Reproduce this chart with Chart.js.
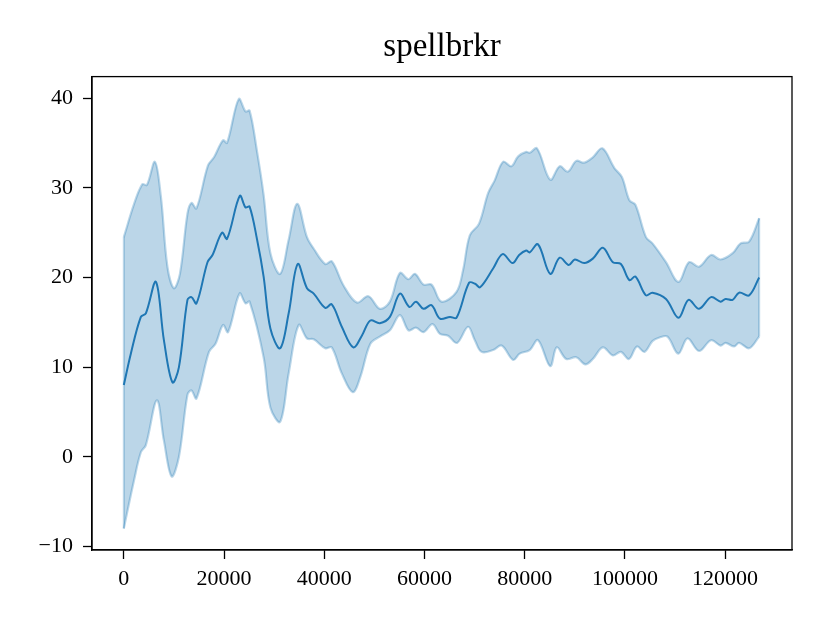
<!DOCTYPE html>
<html><head><meta charset="utf-8">
<script src="https://cdn.jsdelivr.net/npm/chart.js@4/dist/chart.umd.min.js"></script>
<style>html,body{margin:0;padding:0;background:#fff;}#wrap{width:830px;height:623px;}</style>
</head><body><div id="wrap"><canvas id="c" width="830" height="623"></canvas></div>
<script>
const chartTitle = 'spellbrkr';
const xTicks = [0, 20000, 40000, 60000, 80000, 100000, 120000];
const yTicks = [-10, 0, 10, 20, 30, 40];

const meanX = [0,1400,3400,4400,6400,8000,9700,11000,12700,13500,14500,16700,17700,19600,20600,23150,24300,25100,26600,27900,29250,31200,32900,34700,36550,37900,40200,41500,43500,45800,47500,49200,51100,53100,55100,57000,58300,59800,61400,63100,65100,66400,68900,70100,71100,73700,75600,77600,78900,80300,81000,82650,85100,87000,88800,90000,91900,93600,95600,97600,99200,100900,102100,104200,105500,108200,110700,112700,114800,117200,119100,120100,121500,122800,124800,126800];
const meanY = [8.0,11.5,15.6,16.0,19.5,13.0,8.3,10.0,17.5,17.8,17.1,21.7,22.5,25.0,24.3,29.1,27.8,27.9,24.2,20.1,14.3,12.1,16.0,21.5,18.8,18.2,16.6,17.0,14.5,12.2,13.5,15.2,14.9,15.6,18.2,16.7,17.3,16.5,16.9,15.4,15.6,15.5,19.4,19.3,18.9,21.0,22.6,21.6,22.5,23.0,22.8,23.7,20.4,22.2,21.4,22.0,21.6,22.1,23.3,21.7,21.5,19.7,20.1,18.0,18.3,17.6,15.5,17.5,16.5,17.8,17.3,17.6,17.5,18.3,18.0,20.0];

const upperX = [0,2050,3700,4600,6200,7400,8700,10000,11200,12700,13500,14500,16800,18000,19800,20600,22950,24300,25100,26600,27900,29250,31200,32900,34600,36550,37900,40200,41500,43850,46500,48800,51100,53100,55100,56800,58100,59800,61400,63400,66400,67700,69050,70900,72700,74000,75700,77350,78700,80300,81000,82450,85100,87000,88600,90300,91900,93600,95500,97900,99400,100900,102100,104200,105500,108200,110700,112800,114800,117200,119100,121500,123100,124800,126800];
const upperY = [24.5,28.2,30.4,30.3,32.9,29.0,21.2,18.8,20.4,27.1,28.3,27.7,32.5,33.4,35.3,35.0,39.9,38.5,38.6,34.0,29.2,22.7,20.4,24.2,28.2,24.5,23.2,21.5,21.8,19.1,17.2,17.9,16.5,17.3,20.5,19.8,20.4,19.2,19.2,17.3,18.4,20.8,24.7,26.0,29.4,30.8,32.9,32.4,33.5,34.0,33.9,34.4,30.9,32.4,31.8,33.0,32.8,33.4,34.4,32.2,31.2,28.6,28.1,24.5,23.8,21.7,19.5,21.7,21.2,22.5,22.0,22.7,23.8,24.0,26.6];

const lowerX = [0,2050,3400,4400,6600,8000,9550,11000,12700,13500,14500,17000,18300,19800,20800,23100,24300,25100,27900,29250,31200,32900,34900,36550,37900,40200,41500,43500,45700,47200,49200,51100,53100,55100,56800,58300,59800,61600,63100,64700,66500,68700,70050,71400,73700,75400,77700,79000,81000,82650,85100,86400,88300,90300,92100,93600,95600,97600,99200,100800,102400,103900,105500,106900,108500,110650,112500,114800,117200,119100,120100,121800,122800,124800,126800];
const lowerY = [-8.0,-2.6,0.5,1.3,6.3,1.8,-2.2,0.0,6.9,7.4,6.5,11.7,12.6,14.7,13.9,18.2,17.1,17.3,11.1,5.5,3.9,9.3,14.7,13.2,13.1,12.1,12.2,9.3,7.2,8.9,12.6,13.4,14.1,15.8,14.1,14.4,13.9,14.8,13.7,13.5,12.7,14.5,13.0,11.7,11.9,12.4,10.8,11.5,11.9,13.0,10.1,12.2,10.9,11.1,10.3,10.9,12.2,11.3,11.7,10.9,12.3,11.7,12.9,13.3,13.4,11.5,13.2,11.8,13.0,12.4,12.7,12.3,12.7,12.1,13.4];

const pts = (xs, ys) => xs.map((x, i) => ({x, y: ys[i]}));
const FONT = 'Liberation Serif, Times New Roman, serif';
const blue = '#1f77b4';
const band = 'rgba(31,119,180,0.3)';

const framePlugin = {
  id: 'frame',
  afterDatasetsDraw(chart) {
    const {ctx, scales: {x, y}} = chart;
    ctx.save();
    ctx.strokeStyle = band; ctx.lineWidth = 2;
    [[upperX[0], upperY[0], lowerY[0]], [upperX[upperX.length-1], upperY[upperY.length-1], lowerY[lowerY.length-1]]].forEach(([xv, y1, y2]) => {
      const px = x.getPixelForValue(xv);
      ctx.beginPath(); ctx.moveTo(px, y.getPixelForValue(y1)); ctx.lineTo(px, y.getPixelForValue(y2)); ctx.stroke();
    });
    ctx.restore();
  },
  afterDraw(chart) {
    const {ctx, chartArea: a} = chart;
    ctx.save();
    ctx.strokeStyle = '#000'; ctx.lineWidth = 1.3;
    ctx.strokeRect(a.left, a.top, a.right - a.left, a.bottom - a.top);
    ctx.restore();
  }
};

new Chart(document.getElementById('c'), {
  type: 'line',
  data: {
    datasets: [
      {data: pts(meanX, meanY), borderColor: blue, borderWidth: 2, pointRadius: 0, fill: false, tension: 0.35, order: 0},
      {data: pts(upperX, upperY), borderColor: band, borderWidth: 2.2, pointRadius: 0, backgroundColor: band, fill: {target: 2}, tension: 0.35, order: 2},
      {data: pts(lowerX, lowerY), borderColor: band, borderWidth: 2.2, pointRadius: 0, fill: false, tension: 0.35, order: 1}
    ]
  },
  options: {
    responsive: false, animation: false, devicePixelRatio: 1,
    layout: {padding: {left: 0, right: 38, top: 0, bottom: 0}},
    plugins: {
      legend: {display: false}, tooltip: {enabled: false},
      title: {display: true, text: chartTitle, fullSize: false, color: '#000',
        font: {family: FONT, size: 33, weight: 'normal'}, padding: {top: 28, bottom: 9}}
    },
    scales: {
      x: {type: 'linear', min: -6350, max: 133350,
        afterBuildTicks: s => { s.ticks = xTicks.map(v => ({value: v})); },
        afterFit: s => { s.height = 73; },
        ticks: {color: '#000', font: {family: FONT, size: 22}, padding: 7, maxRotation: 0, autoSkip: false, callback: v => String(v)},
        grid: {display: true, drawOnChartArea: false, drawTicks: true, tickLength: 9, tickColor: '#000', tickWidth: 1.3},
        border: {display: true, color: '#000', width: 1.3}
      },
      y: {type: 'linear', min: -10.4, max: 42.4,
        afterBuildTicks: s => { s.ticks = yTicks.map(v => ({value: v})); },
        afterFit: s => { s.width = 92; },
        ticks: {color: '#000', font: {family: FONT, size: 22}, padding: 10, callback: v => v < 0 ? '\u2212' + Math.abs(v) : String(v)},
        grid: {display: true, drawOnChartArea: false, drawTicks: true, tickLength: 9, tickColor: '#000', tickWidth: 1.3},
        border: {display: true, color: '#000', width: 1.3}
      }
    }
  },
  plugins: [framePlugin]
});
</script></body></html>
